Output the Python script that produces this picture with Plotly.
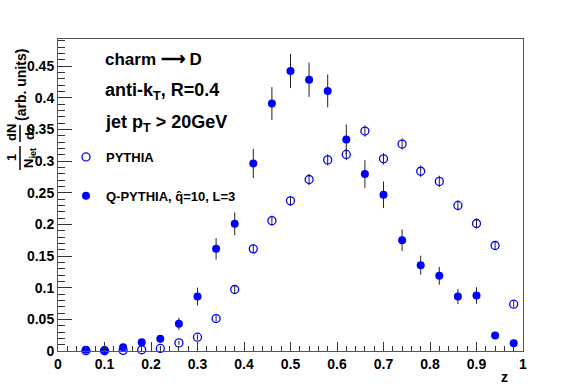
import plotly.graph_objects as go

# ---- data ----
z_bins = [0.06, 0.10, 0.14, 0.18, 0.22, 0.26, 0.30, 0.34, 0.38, 0.42, 0.46, 0.50,
          0.54, 0.58, 0.62, 0.66, 0.70, 0.74, 0.78, 0.82, 0.86, 0.90, 0.94, 0.98]
pythia_y = [0.0005, 0.0004, 0.001, 0.002, 0.004, 0.0128, 0.0218, 0.0513, 0.0972, 0.1614,
            0.206, 0.2373, 0.271, 0.302, 0.3106, 0.3475, 0.3037, 0.327, 0.284, 0.268,
            0.230, 0.2015, 0.1667, 0.074]
pythia_err = [0.0005, 0.0005, 0.001, 0.001, 0.002, 0.003, 0.004, 0.005, 0.006, 0.007,
              0.008, 0.008, 0.009, 0.009, 0.009, 0.009, 0.009, 0.009, 0.009, 0.009,
              0.008, 0.008, 0.007, 0.005]
qpythia_y = [0.002, 0.001, 0.006, 0.014, 0.0192, 0.0429, 0.0861, 0.1614, 0.201, 0.2963,
             0.391, 0.4423, 0.4286, 0.411, 0.334, 0.2795, 0.2468, 0.175, 0.1356, 0.1188,
             0.0861, 0.0877, 0.0245, 0.0123]
qpythia_err = [0.004, 0.006, 0.004, 0.004, 0.006, 0.0095, 0.014, 0.017, 0.018, 0.023,
               0.026, 0.027, 0.027, 0.026, 0.024, 0.022, 0.021, 0.017, 0.015, 0.014,
               0.012, 0.013, 0.005, 0.003]
y_tick_vals = [0, 0.05, 0.1, 0.15, 0.2, 0.25, 0.3, 0.35, 0.4, 0.45]
y_tick_text = ["0", "0.05", "0.1", "0.15", "0.2", "0.25", "0.3", "0.35", "0.4", "0.45"]
x_tick_vals = [0, 0.1, 0.2, 0.3, 0.4, 0.5, 0.6, 0.7, 0.8, 0.9, 1.0]
x_tick_text = ["0", "0.1", "0.2", "0.3", "0.4", "0.5", "0.6", "0.7", "0.8", "0.9", "1"]

W, H = 581, 391
L, R, T, B = 58, 523, 39, 351
FONT = "Liberation Sans, Arial, sans-serif"
BLUE = "#0000ff"


def px(x):
    return (x - L) / (R - L)


def py(y):
    return (B - y) / (B - T)


fig = go.Figure()
fig.add_trace(go.Scatter(
    x=z_bins, y=pythia_y, mode="markers", name="PYTHIA",
    marker=dict(symbol="circle-open", size=8, color=BLUE, line=dict(width=1.3, color=BLUE)),
    error_y=dict(type="data", array=pythia_err, color="#222", thickness=1, width=0),
    cliponaxis=False, legendgroup="a"))
fig.add_trace(go.Scatter(
    x=z_bins, y=qpythia_y, mode="markers", name="Q-PYTHIA, q\u0302=10, L=3",
    marker=dict(symbol="circle", size=8, color=BLUE),
    error_y=dict(type="data", array=qpythia_err, color="#222", thickness=1, width=0),
    cliponaxis=False, legendgroup="b"))

tickfont = dict(family=FONT, size=14, color="black", weight="bold")
fig.update_xaxes(range=[0, 1], tickvals=x_tick_vals, ticktext=x_tick_text,
                 ticks="inside", ticklen=9, tickcolor="#333", tickwidth=1,
                 minor=dict(dtick=0.02, ticklen=5, ticks="inside", tickcolor="#333"),
                 showline=True, linecolor="#555", linewidth=1, mirror=True,
                 showgrid=False, zeroline=False, tickfont=tickfont)
fig.update_yaxes(range=[0, 0.493], tickvals=y_tick_vals, ticktext=y_tick_text,
                 ticks="inside", ticklen=14, tickcolor="#333", tickwidth=1,
                 minor=dict(dtick=0.01, ticklen=7, ticks="inside", tickcolor="#333"),
                 showline=True, linecolor="#555", linewidth=1, mirror=True,
                 showgrid=False, zeroline=False, tickfont=tickfont)

ann = []
def text(s, x, y, size, angle=0, xanchor="left", yanchor="middle"):
    ann.append(dict(text=s, x=px(x), y=py(y), xref="paper", yref="paper",
                    showarrow=False, textangle=angle, xanchor=xanchor, yanchor=yanchor,
                    font=dict(family=FONT, size=size, color="black", weight="bold")))

text("charm \u27f6 D", 103, 60, 17)
text("anti-k<sub>T</sub>, R=0.4", 103, 92, 18)
text("jet p<sub>T</sub> > 20GeV", 103, 123, 18)
text("z", 504, 377, 14, xanchor="center")

# y-axis title pieces (rotated)
text("(arb. units)", 21, 85, 14, angle=-90, xanchor="center")
text("dN", 11, 133, 13, angle=-90, xanchor="center")
text("dz", 29, 133, 13, angle=-90, xanchor="center")
text("1", 11, 158, 13, angle=-90, xanchor="center")
text("N<sub>jet</sub>", 29, 158, 13, angle=-90, xanchor="center")

shapes = [
    dict(type="line", xref="paper", yref="paper", x0=px(20), x1=px(20), y0=py(125), y1=py(142),
         line=dict(color="black", width=1.5)),
    dict(type="line", xref="paper", yref="paper", x0=px(20), x1=px(20), y0=py(146), y1=py(170),
         line=dict(color="black", width=1.5)),
]

fig.update_layout(
    width=W, height=H,
    margin=dict(l=L, r=W - R, t=T, b=H - B, pad=0),
    paper_bgcolor="white", plot_bgcolor="white",
    annotations=ann, shapes=shapes,
    hovermode=False,
    showlegend=True,
    legend=dict(x=px(66), y=py(142), xanchor="left", yanchor="top",
                bgcolor="rgba(0,0,0,0)", tracegroupgap=19,
                font=dict(family=FONT, size=13, color="black", weight="bold")),
)

fig.write_html("out.html", config={"displayModeBar": False},
               post_script="document.body.style.margin='0px';document.body.style.overflow='hidden';")
